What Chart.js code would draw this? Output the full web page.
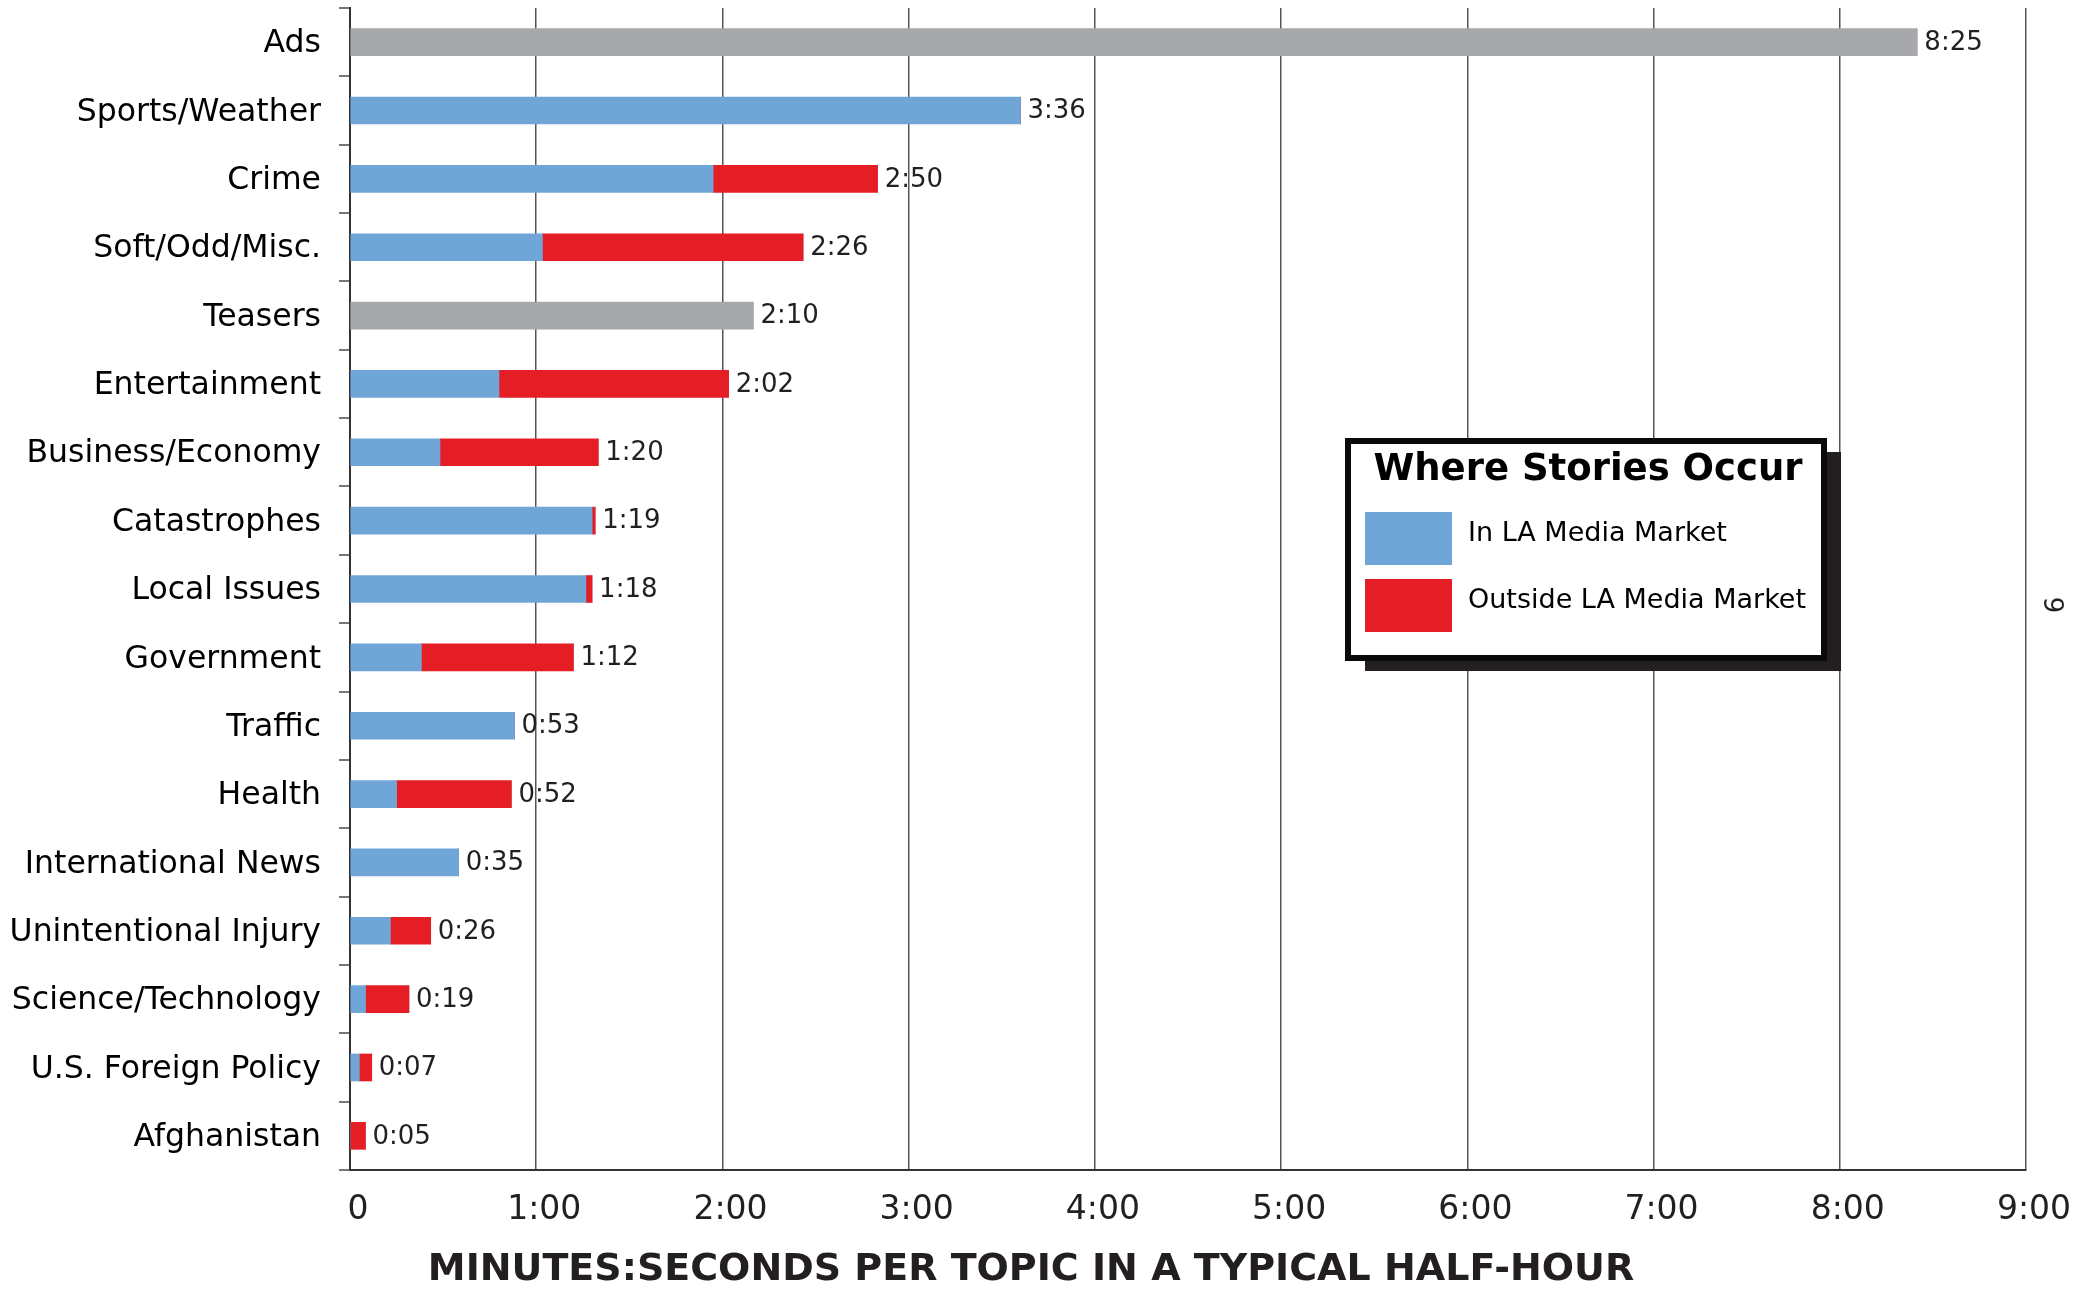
<!DOCTYPE html>
<html>
<head>
<meta charset="utf-8">
<script src="https://cdn.jsdelivr.net/npm/chart.js@4.4.1/dist/chart.umd.min.js"></script>
<style>
  body { margin: 0; background: #fff; }
  #wrap { position: relative; width: 2080px; height: 1289px; }
  #pagenum {
    position: absolute; left: 2040px; top: 589px; width: 30px; height: 32px;
    font: 26px "DejaVu Sans", sans-serif; color: #231f20; text-align: center; line-height: 32px;
    transform: rotate(-90deg);
  }
</style>
</head>
<body>
<div id="wrap">
  <canvas id="mycanvas"></canvas>
  <div id="pagenum">6</div>
</div>
<script>
// seconds per topic in a typical half-hour
var topics = ["Ads", "Sports/Weather", "Crime", "Soft/Odd/Misc.", "Teasers", "Entertainment",
  "Business/Economy", "Catastrophes", "Local Issues", "Government", "Traffic", "Health",
  "International News", "Unintentional Injury", "Science/Technology", "U.S. Foreign Policy", "Afghanistan"];
var inLA      = [0, 216, 117, 62, 0, 48, 29, 78, 76, 23, 53, 15, 35, 13, 5, 3, 0];
var outsideLA = [0,   0,  53, 84, 0, 74, 51,  1,  2, 49,  0, 37,  0, 13, 14, 4, 5];
var other     = [505, 0,   0,  0, 130, 0, 0,  0,  0,  0,  0,  0,  0,  0,  0, 0, 0];
var xTicks = [0, 60, 120, 180, 240, 300, 360, 420, 480, 540];

var FONT = '"DejaVu Sans", Verdana, sans-serif';

function mmss(v) {
  if (v === 0) return "0";
  var m = Math.floor(v / 60), s = v % 60;
  return m + ":" + (s < 10 ? "0" : "") + s;
}

var totalLabels = {
  id: 'totalLabels',
  afterDatasetsDraw: function(chart) {
    var ctx = chart.ctx, xs = chart.scales.x, ys = chart.scales.y;
    ctx.save();
    ctx.font = '26px ' + FONT;
    ctx.fillStyle = '#231f20';
    ctx.textAlign = 'left';
    ctx.textBaseline = 'middle';
    for (var i = 0; i < topics.length; i++) {
      var t = inLA[i] + outsideLA[i] + other[i];
      ctx.fillText(mmss(t), xs.getPixelForValue(t) + 7, ys.getPixelForValue(i) + 1);
    }
    ctx.restore();
  }
};

var boxLegend = {
  id: 'boxLegend',
  afterDraw: function(chart) {
    var ctx = chart.ctx;
    var x = 1345, y = 438, w = 482, h = 223;
    ctx.save();
    ctx.fillStyle = '#231f20';
    ctx.fillRect(x + 20, y + 14, w - 6, h - 4);
    ctx.fillStyle = '#fff';
    ctx.fillRect(x, y, w, h);
    ctx.strokeStyle = '#0a0a0a';
    ctx.lineWidth = 6;
    ctx.strokeRect(x + 3, y + 3, w - 6, h - 6);
    ctx.fillStyle = '#000';
    ctx.font = 'bold 37px ' + FONT;
    ctx.textAlign = 'center';
    ctx.textBaseline = 'middle';
    ctx.fillText('Where Stories Occur', x + w / 2 + 2, y + 32);
    ctx.textAlign = 'left';
    ctx.font = '27px ' + FONT;
    var items = chart.data.datasets.filter(function(d) { return d.inLegend; });
    items.forEach(function(d, k) {
      var sy = 512 + k * 67;
      ctx.fillStyle = d.backgroundColor;
      ctx.fillRect(1365, sy, 87, 53);
      ctx.fillStyle = '#000';
      ctx.fillText(d.label, 1468, sy + 22);
    });
    ctx.restore();
  }
};

var chartdata = {
  labels: topics,
  datasets: [
    { label: 'In LA Media Market', data: inLA, backgroundColor: '#70a5d8', inLegend: true },
    { label: 'Outside LA Media Market', data: outsideLA, backgroundColor: '#e51e26', inLegend: true },
    { label: 'Other', data: other, backgroundColor: '#a7a8ab', inLegend: false }
  ]
};

var ctx = document.getElementById('mycanvas');

var barGraph = new Chart(ctx, {
  type: 'bar',
  data: chartdata,
  plugins: [totalLabels, boxLegend],
  options: {
    indexAxis: 'y',
    responsive: true,
    maintainAspectRatio: false,
    animation: false,
    datasets: { bar: { barThickness: 27, borderWidth: 0 } },
    layout: { padding: { top: 8, right: 18, bottom: 0, left: 0 } },
    plugins: {
      legend: { display: false },
      tooltip: { enabled: false },
      title: {
        display: true,
        position: 'bottom',
        text: 'MINUTES:SECONDS PER TOPIC IN A TYPICAL HALF-HOUR',
        color: '#231f20',
        font: { family: FONT, size: 38, weight: 'bold', lineHeight: 1 },
        padding: 0
      }
    },
    scales: {
      x: {
        stacked: true,
        min: 0,
        max: 540,
        afterBuildTicks: function(s) { s.ticks = xTicks.map(function(v) { return { value: v }; }); },
        afterFit: function(s) { s.height = 81; s.paddingRight = 54; s.paddingLeft = 0; },
        ticks: {
          callback: function(v) { return mmss(v); },
          color: '#231f20',
          font: { family: FONT, size: 33 },
          padding: 21,
          labelOffset: 8,
          maxRotation: 0,
          autoSkip: false
        },
        grid: { color: '#555', lineWidth: 1.5, drawTicks: false },
        border: { color: '#333', width: 2 }
      },
      y: {
        stacked: true,
        afterFit: function(s) { s.width = 350; s.paddingTop = 0; s.paddingBottom = 0; },
        ticks: {
          color: '#000',
          font: { family: FONT, size: 31.5 },
          padding: 18,
          labelOffset: 2,
          autoSkip: false
        },
        grid: { drawOnChartArea: false, drawTicks: true, tickLength: 11, color: '#777', lineWidth: 2, offset: true },
        border: { color: '#333', width: 2 }
      }
    }
  }
});
</script>
</body>
</html>
